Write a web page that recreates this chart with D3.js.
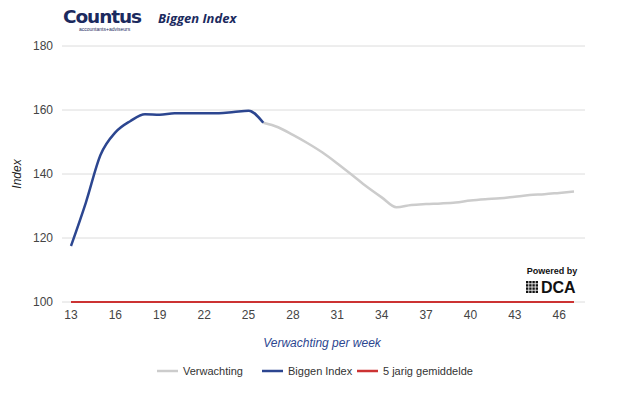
<!DOCTYPE html>
<html>
<head>
<meta charset="utf-8">
<script src="https://cdn.jsdelivr.net/npm/d3@7"></script>
<style>
  body { margin: 0; background: #fff; }
  svg { font-family: "Liberation Sans", Arial, sans-serif; }
</style>
</head>
<body>
<svg width="625" height="393"></svg>
<script>
// weeks and series values
var weeks = d3.range(13, 48);
var tickWeeks = [13, 16, 19, 22, 25, 28, 31, 34, 37, 40, 43, 46];
var yTicks = [100, 120, 140, 160, 180];

var biggenWeeks = d3.range(13, 27);
var biggenIndex = [117.5, 131, 146, 153, 156.5, 158.7, 158.5, 159, 159, 159, 159, 159.4, 159.8, 156];

var verwachtingWeeks = d3.range(26, 48);
var verwachting = [156, 154.6, 152.2, 149.6, 146.7, 143.3, 139.7, 136, 132.7, 129.6, 130.3, 130.6,
                   130.8, 131.1, 131.7, 132.1, 132.4, 132.9, 133.4, 133.7, 134.1, 134.5];

var gemiddelde = weeks.map(function () { return 100; });

var svg = d3.select("svg");

var x = d3.scaleLinear().domain([13, 47]).range([71, 574]);
var y = d3.scaleLinear().domain([100, 180]).range([302, 46]);

// gridlines
svg.append("g").selectAll("line")
    .data(yTicks)
  .enter().append("line")
    .attr("x1", 62).attr("x2", 585)
    .attr("y1", function (d) { return y(d); })
    .attr("y2", function (d) { return y(d); })
    .attr("stroke", "#dcdcdc")
    .attr("stroke-width", 1);

// y tick labels
svg.append("g").selectAll("text")
    .data(yTicks)
  .enter().append("text")
    .attr("x", 53)
    .attr("y", function (d) { return y(d); })
    .attr("dy", "0.35em")
    .attr("text-anchor", "end")
    .attr("font-size", 12)
    .attr("fill", "#444")
    .text(function (d) { return d; });

// x tick labels
svg.append("g").selectAll("text")
    .data(tickWeeks)
  .enter().append("text")
    .attr("x", function (d) { return x(d); })
    .attr("y", 319)
    .attr("text-anchor", "middle")
    .attr("font-size", 12)
    .attr("fill", "#444")
    .text(function (d) { return d; });

var line = d3.line()
    .x(function (d) { return x(d[0]); })
    .y(function (d) { return y(d[1]); })
    .curve(d3.curveMonotoneX);

svg.append("path")
    .attr("d", line(d3.zip(weeks, gemiddelde)))
    .attr("fill", "none")
    .attr("stroke", "#cc3333")
    .attr("stroke-width", 2);

svg.append("path")
    .attr("d", line(d3.zip(verwachtingWeeks, verwachting)))
    .attr("fill", "none")
    .attr("stroke", "#cccccc")
    .attr("stroke-width", 2.5);

svg.append("path")
    .attr("d", line(d3.zip(biggenWeeks, biggenIndex)))
    .attr("fill", "none")
    .attr("stroke", "#2c4690")
    .attr("stroke-width", 2.5);

// axis titles
svg.append("text")
    .attr("transform", "translate(21,174)rotate(-90)")
    .attr("text-anchor", "middle")
    .attr("font-size", 12)
    .attr("font-style", "italic")
    .attr("fill", "#222")
    .text("Index");

svg.append("text")
    .attr("x", 322).attr("y", 347)
    .attr("text-anchor", "middle")
    .attr("font-size", 12)
    .attr("font-style", "italic")
    .attr("fill", "#2c4690")
    .text("Verwachting per week");

// legend
var legend = [
  {name: "Verwachting", color: "#cccccc", x: 157},
  {name: "Biggen Index", color: "#2c4690", x: 262},
  {name: "5 jarig gemiddelde", color: "#cc3333", x: 357}
];
var lg = svg.append("g").selectAll("g")
    .data(legend)
  .enter().append("g")
    .attr("transform", function (d) { return "translate(" + d.x + ",371)"; });
lg.append("line")
    .attr("x1", 0).attr("x2", 21)
    .attr("stroke", function (d) { return d.color; })
    .attr("stroke-width", 2.5);
lg.append("text")
    .attr("x", 26)
    .attr("dy", "0.35em")
    .attr("font-size", 11)
    .attr("fill", "#333")
    .text(function (d) { return d.name; });

// header: logo + title
svg.append("text")
    .attr("x", 63).attr("y", 23)
    .attr("font-family", "'DejaVu Sans', sans-serif")
    .attr("font-weight", "bold")
    .attr("font-size", 18.5)
    .attr("letter-spacing", -1.1)
    .attr("fill", "#1b2a5e")
    .text("Countus");
svg.append("text")
    .attr("x", 79).attr("y", 31)
    .attr("font-size", 5)
    .attr("fill", "#1b2a5e")
    .text("accountants+adviseurs");
svg.append("text")
    .attr("x", 158).attr("y", 23)
    .attr("font-family", "'Open Sans', sans-serif")
    .attr("font-weight", "bold")
    .attr("font-style", "italic")
    .attr("font-size", 13)
    .attr("fill", "#1b2a5e")
    .text("Biggen Index");

// powered by DCA
svg.append("text")
    .attr("x", 552).attr("y", 274)
    .attr("text-anchor", "middle")
    .attr("font-weight", "bold")
    .attr("font-size", 9)
    .attr("fill", "#111")
    .text("Powered by");
var icon = svg.append("g").attr("transform", "translate(526,281)");
d3.range(16).forEach(function (i) {
  icon.append("rect")
      .attr("x", (i % 4) * 3.2).attr("y", Math.floor(i / 4) * 3.2)
      .attr("width", 2.4).attr("height", 2.4)
      .attr("fill", "#111");
});
svg.append("text")
    .attr("x", 541).attr("y", 293)
    .attr("font-weight", "bold")
    .attr("font-size", 16)
    .attr("fill", "#111")
    .text("DCA");
</script>
</body>
</html>
